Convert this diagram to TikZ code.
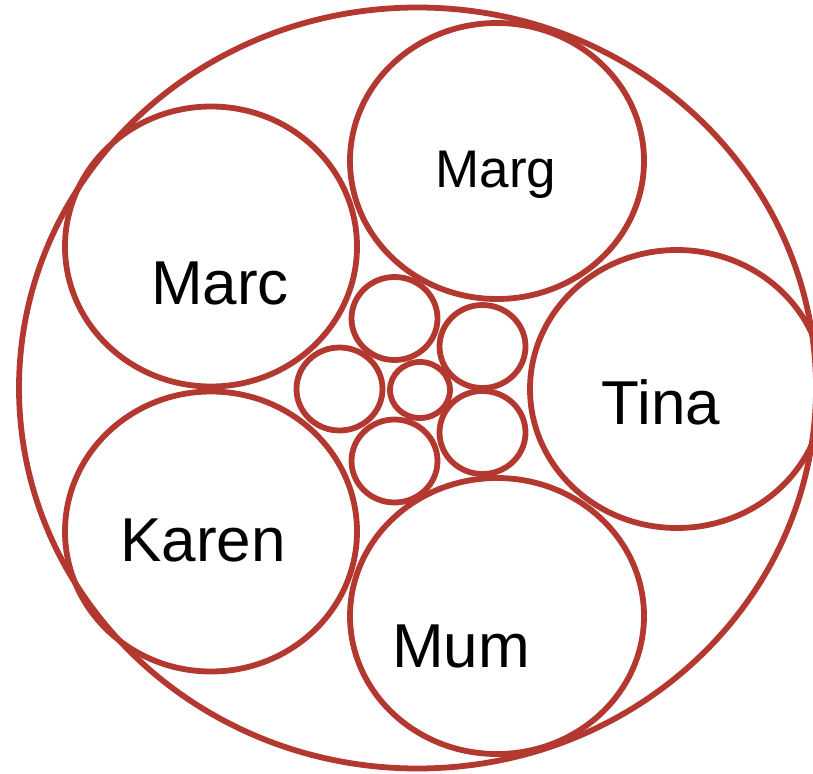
\documentclass[tikz,border=0pt]{standalone}
\usepackage{fontspec}
\setmainfont{Liberation Sans}
\definecolor{ringred}{RGB}{178,56,48}
\begin{document}
\begin{tikzpicture}[x=1pt,y=-1pt,
  ring/.style={draw=ringred,line width=5.8pt},
  bigname/.style={anchor=base,inner sep=0pt,font=\fontsize{62}{62}\selectfont},
  smallname/.style={anchor=base,inner sep=0pt,font=\fontsize{53}{53}\selectfont}]
\useasboundingbox (0,0) rectangle (813,773);
\clip (0,0) rectangle (813,773);
% centres
\coordinate (outer) at (417.5,388);
\coordinate (marg)  at (497,161);
\coordinate (marc)  at (211,246.5);
\coordinate (karen) at (211,531.5);
\coordinate (mum)   at (497,616);
\coordinate (tina)  at (677,389);
\coordinate (c0) at (420,390);
\coordinate (s1) at (339.5,389);
\coordinate (s2) at (394.5,318.5);
\coordinate (s3) at (482.5,346.5);
\coordinate (s4) at (482.5,432.5);
\coordinate (s5) at (394.5,461);
% outer ring
\draw[ring] (outer) ellipse [x radius=398.5pt, y radius=380.5pt];
% large circles
\draw[ring] (marg)  ellipse [x radius=147pt, y radius=138pt];
\draw[ring] (marc)  ellipse [x radius=146pt, y radius=140pt];
\draw[ring] (karen) ellipse [x radius=146pt, y radius=140pt];
\draw[ring] (mum)   ellipse [x radius=147pt, y radius=138pt];
\draw[ring] (tina)  ellipse [x radius=147pt, y radius=139pt];
% small circles
\draw[ring] (c0) ellipse [x radius=30pt, y radius=28pt];
\draw[ring] (s1) ellipse [x radius=43pt, y radius=41.5pt];
\draw[ring] (s2) ellipse [x radius=43pt, y radius=41.5pt];
\draw[ring] (s3) ellipse [x radius=43pt, y radius=41.5pt];
\draw[ring] (s4) ellipse [x radius=43pt, y radius=41.5pt];
\draw[ring] (s5) ellipse [x radius=43pt, y radius=41.5pt];
% names
\node[smallname] (tmarg)  at (496,187) {Marg};
\node[bigname]   (tmarc)  at (220,304) {Marc};
\node[bigname]   (ttina)  at (661,424) {Tina};
\node[bigname]   (tkaren) at (203,561) {Karen};
\node[bigname]   (tmum)   at (461,667) {Mum};
\end{tikzpicture}
\end{document}
